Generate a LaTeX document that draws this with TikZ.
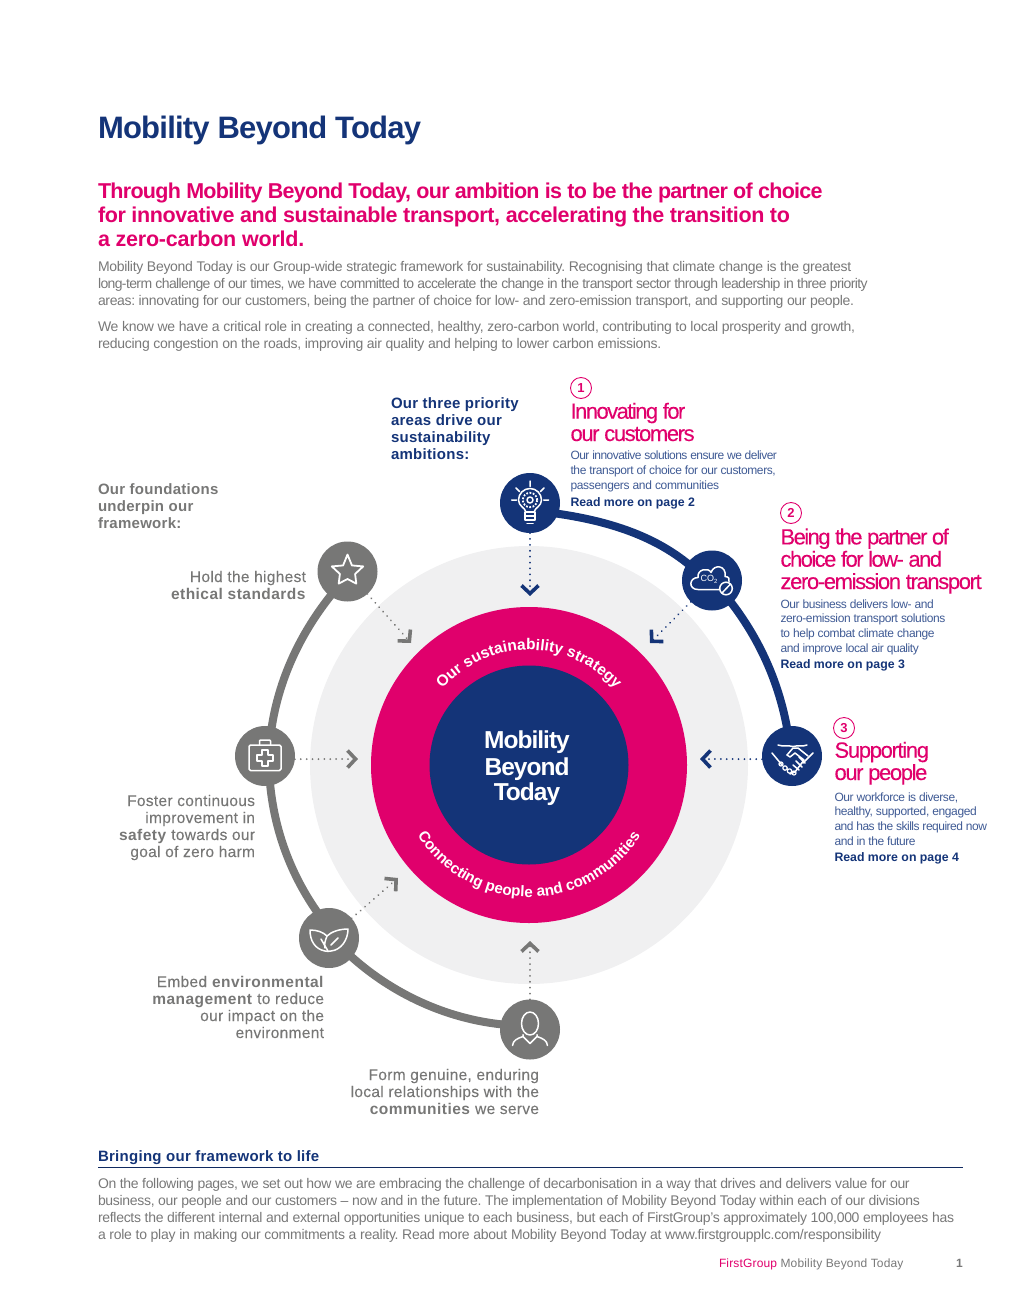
\documentclass[tikz,border=0pt]{standalone}
\usepackage{fontspec}
\usetikzlibrary{arrows.meta,decorations.text,backgrounds}
\setmainfont{Liberation Sans}
\frenchspacing
\newfontfamily\bodyf{Liberation Sans}[LetterSpace=-1.8]
\newfontfamily\headf{Liberation Sans}[LetterSpace=-6,FakeBold=0.12]
\newfontfamily\descf{Liberation Sans}[LetterSpace=-3.6]
\newfontfamily\labf{Liberation Sans}[LetterSpace=0]
\newfontfamily\boldlab{Liberation Sans Bold}[LetterSpace=1.9]
\newfontfamily\greyf{Liberation Sans}[LetterSpace=2,FakeBold=0.1,BoldFeatures={LetterSpace=3,FakeBold=0}]
\newfontfamily\curvef{Liberation Sans Bold}
\newcommand{\fs}[2]{\fontsize{#1}{#2}\selectfont}
\newcommand{\ls}[2]{{\addfontfeature{LetterSpace=#1}#2}}
\definecolor{navy}{HTML}{143478}
\definecolor{pinkc}{HTML}{E0006C}
\definecolor{discg}{HTML}{F0F0F1}
\definecolor{greyc}{HTML}{777776}
\definecolor{bodyc}{HTML}{787878}
\definecolor{descc}{HTML}{3F5A94}
\tikzset{
 txt/.style={inner sep=0pt,outer sep=0pt,anchor=base west,align=left},
 txr/.style={inner sep=0pt,outer sep=0pt,anchor=base east,align=right},
 bodytext/.style={txt,text=bodyc,font=\bodyf\fs{14}{17}},
 heading/.style={txt,text=pinkc,font=\headf\fs{22}{22.3}},
 desc/.style={txt,text=descc,font=\descf\fs{12}{14.6}},
 readmore/.style={txt,text=navy,font=\labf\bfseries\fs{12.3}{15}},
 greylab/.style={txr,text=greyc,font=\greyf\fs{15.5}{17}},
 numcircle/.style={circle,draw=pinkc,line width=0.9pt,minimum size=21pt,inner sep=0pt,text=pinkc,font=\labf\bfseries\fs{13}{13}},
 bluedot/.style={circle,fill=navy,minimum size=60pt,inner sep=0pt,outer sep=0pt},
 greydot/.style={circle,fill=greyc,minimum size=60pt,inner sep=0pt,outer sep=0pt},
 ringblue/.style={draw=navy,line width=8pt,looseness=0.85,shorten <=-4pt,shorten >=-4pt},
 ringgrey/.style={draw=greyc,line width=8pt,looseness=0.85,shorten <=-4pt,shorten >=-4pt},
 dotblue/.style={draw=navy,line width=1.9pt,line cap=round,dash pattern=on 0.1pt off 5.8pt,-{Straight Barb[length=8pt,width=17pt,line width=3.6pt,line cap=butt]}},
 dotgrey/.style={draw=greyc,line width=1.9pt,line cap=round,dash pattern=on 0.1pt off 5.8pt,-{Straight Barb[length=8pt,width=17pt,line width=3.6pt,line cap=butt]}},
 ico/.style={draw=white,line width=1.5pt,line join=round,line cap=round,fill=none},
}
\begin{document}
\begin{tikzpicture}[x=1pt,y=1pt]
\useasboundingbox (0,0) rectangle (1020,-1311);
% header
\node[txt,text=navy,font=\labf\bfseries\fs{31}{34}] (title) at (98,-139) {\ls{-2.5}{Mobility Beyond Today}};
\node[txt,text=pinkc,font=\labf\bfseries\fs{21.5}{24}] (sub) at (98,-246) {\ls{-3.25}{Through Mobility Beyond Today, our ambition is to be the partner of choice}\\\ls{-1.75}{for innovative and sustainable transport, accelerating the transition to}\\\ls{-1.1}{a zero-carbon world.}};
\node[bodytext] (p1) at (98,-305) {\ls{-2.1}{Mobility Beyond Today is our Group-wide strategic framework for sustainability. Recognising that climate change is the greatest}\\\ls{-4.4}{long-term challenge of our times, we have committed to accelerate the change in the transport sector through leadership in three priority}\\\ls{-2.5}{areas: innovating for our customers, being the partner of choice for low- and zero-emission transport, and supporting our people.}};
\node[bodytext] (p2) at (98,-348) {\ls{-1.95}{We know we have a critical role in creating a connected, healthy, zero-carbon world, contributing to local prosperity and growth,}\\\ls{-1.95}{reducing congestion on the roads, improving air quality and helping to lower carbon emissions.}};
% discs
\node[circle,fill=discg,minimum size=438pt,inner sep=0pt] (disc) at (529,-765) {};
\node[circle,fill=pinkc,minimum size=316pt,inner sep=0pt] (ring) at (529,-765) {};
\node[circle,fill=navy,minimum size=199pt,inner sep=0pt] (core) at (529,-765) {};
\node[txt,anchor=base,align=center,text=white,font=\labf\bfseries\fs{24.5}{25}] (corelab) at (527,-800) {\ls{-4}{Mobility}\\[2pt]\ls{-4}{Beyond}\\\ls{-4}{Today}};
\path[decorate,decoration={text along path,text color=white,text align=center,text={|\curvef\fs{15.5}{16}|Our sustainability strategy}}] (529,-765) ++(165:115) arc (165:15:115);
\path[decorate,decoration={text along path,text color=white,text align=center,text={|\curvef\fs{15.2}{16}|Connecting people and communities}}] (529,-765) ++(190:132) arc (190:350:132);
% icon nodes
\node[bluedot] (bulb) at (530,-503) {};
\node[bluedot] (co) at (712,-580.5) {};
\node[bluedot] (hand) at (792,-756) {};
\node[greydot] (star) at (347.5,-571.5) {};
\node[greydot] (aid) at (265,-756) {};
\node[greydot] (leaf) at (329,-938) {};
\node[greydot] (person) at (530,-1029.5) {};
% ring segments
\begin{scope}[on background layer]
\draw[ringblue] (bulb.-21) to[out=-8,in=140] (co.145);
\draw[ringblue] (co.-49) to[out=-52,in=100] (hand.100);
\draw[ringgrey] (star.235) to[out=231,in=82] (aid.77);
\draw[ringgrey] (aid.-80) to[out=275,in=125.5] (leaf.115);
\draw[ringgrey] (leaf.-40) to[out=-42.5,in=174.5] (person.170);
\end{scope}
% dotted connectors
\coordinate (tbulb) at (530,-596);
\coordinate (tco) at (650,-643);
\coordinate (thand) at (700,-759);
\coordinate (tstar) at (411,-643);
\coordinate (taid) at (358,-759);
\coordinate (tleaf) at (398,-878);
\coordinate (tperson) at (530,-941);
\draw[dotblue] (bulb) -- (tbulb);
\draw[dotblue] (co) -- (tco);
\draw[dotblue] (hand.186) -- (thand);
\draw[dotgrey] (star) -- (tstar);
\draw[dotgrey] (aid.-6) -- (taid);
\draw[dotgrey] (leaf) -- (tleaf);
\draw[dotgrey] (person) -- (tperson);
% bulb icon
\begin{scope}[shift={(bulb.center)}]
\draw[ico] (-4.5,-8) .. controls (-5,-5) and (-11.5,-3) .. (-11.5,3) arc (180:0:11.5) .. controls (11.5,-3) and (5,-5) .. (4.5,-8);
\draw[ico] (0,3) circle (3);
\draw[ico,line width=1.8pt,line cap=butt,dash pattern=on 1.8pt off 1.5pt] (0,3) circle (7.2);
\draw[ico] (-5,-9) -- (5,-9) (-5,-13) -- (5,-13) (-5,-17) -- (5,-17) (-5,-9) -- (-5,-17) (5,-9) -- (5,-17) (-3,-20.5) -- (3,-20.5);
\draw[ico] (0,22) -- (0,16.5) (-14,15) -- (-10.5,11.5) (14,15) -- (10.5,11.5) (-18.5,3) -- (-13.5,3) (18.5,3) -- (13.5,3);
\end{scope}
% CO2 icon
\begin{scope}[shift={(co.center)}]
\draw[ico] (7,-9) -- (-14,-9) .. controls (-24,-9) and (-23,3) .. (-14,3) .. controls (-15,12) and (-3,13) .. (-1,8) .. controls (2,17) and (15,15) .. (13,4) .. controls (17,4) and (18,1) .. (17,-1);
\node[text=white,font=\labf\fs{9}{9},inner sep=0pt] (colab) at (-3,1) {CO\raisebox{-1.5pt}{\fs{6}{6}2}};
\draw[ico] (14,-8) circle (6.3);
\draw[ico] (10,-12.5) -- (18.5,-3.5);
\end{scope}
% handshake icon
\begin{scope}[shift={(hand.center)}]
\draw[ico] (-14,11) .. controls (-8,9) and (-4,11) .. (1,9.5) .. controls (6,11) and (10,9) .. (15,11);
\draw[ico] (-20,3) -- (-10,-9) (21,3) -- (11,-7);
\draw[ico] (-5,1) -- (1,8) -- (6,8) -- (16,0);
\draw[ico] (-5,1) -- (-2,-1) -- (3,3) -- (12,-4) -- (3,-16) -- (-2,-18);
\draw[ico] (7,-1) -- (13,-7) (4,-5) -- (10,-11) (1,-9) -- (7,-14);
\draw[ico,line width=1.2pt] (-11,-8) circle (2) (-7,-12) circle (2.2) (-2.5,-15) circle (2.2) (2,-17) circle (2);
\end{scope}
% star icon
\begin{scope}[shift={(star.center)}]
\draw[ico,line width=1.8pt] (90:17) -- (54:7.5) -- (18:16.5) -- (-18:8) -- (-54:15) -- (-90:7.5) -- (-126:15) -- (-162:8) -- (162:16.5) -- (126:7.5) -- cycle;
\end{scope}
% aid icon
\begin{scope}[shift={(aid.center)}]
\draw[ico,rounded corners=1.5pt] (-16,-14.5) rectangle (16,11);
\draw[ico,rounded corners=1pt] (-5.5,11) -- (-5.5,16) -- (5.5,16) -- (5.5,11);
\draw[ico] (-3,-10) -- (3,-10) -- (3,-5) -- (8,-5) -- (8,1) -- (3,1) -- (3,6) -- (-3,6) -- (-3,1) -- (-8,1) -- (-8,-5) -- (-3,-5) -- cycle;
\end{scope}
% leaf icon
\begin{scope}[shift={(leaf.center)}]
\draw[ico] (-4,-13) .. controls (-14,-11) and (-19,-3) .. (-19,8) .. controls (-12,8) and (-6,6) .. (-2,2) .. controls (2,6) and (10,9) .. (19,9) .. controls (19,-2) and (12,-12) .. (2,-13) .. controls (0,-13.5) and (-2,-13.5) .. (-4,-13);
\draw[ico] (-8,-1) -- (-1,-13) (9,0) -- (2,-7);
\draw[ico] (-2,2) .. controls (-4,-3) and (-5,-7) .. (-4,-10);
\end{scope}
% person icon
\begin{scope}[shift={(person.center)}]
\draw[ico] (0,6) ellipse (8.5 and 11.5);
\draw[ico] (-17.5,-16) .. controls (-17,-11) and (-13,-9) .. (-7,-7) -- (-7,-5) (-7,-7) -- (0,-14) -- (7,-7) -- (7,-5) (7,-7) .. controls (13,-9) and (17,-11) .. (17.5,-16);
\end{scope}
% priority blocks
\node[txt,text=navy,font=\boldlab\fs{15}{17}] (three) at (391,-459) {Our three priority\\areas drive our\\sustainability\\ambitions:};
\node[txt,text=greyc,font=\boldlab\fs{15}{17}] (found) at (98,-528) {Our foundations\\underpin our\\framework:};
\node[numcircle] (n1) at (581,-388) {1};
\node[heading] (h1) at (570.5,-441) {\ls{-7}{Innovating for}\\\ls{-6.3}{our customers}};
\node[desc] (d1) at (570.5,-489) {\ls{-4.4}{Our innovative solutions ensure we deliver}\\\ls{-3.2}{the transport of choice for our customers,}\\\ls{-2.7}{passengers and communities}};
\node[readmore] (r1) at (570.5,-506) {Read more on page 2};
\node[numcircle] (n2) at (791,-513) {2};
\node[heading] (h2) at (780.5,-589) {\ls{-7.1}{Being the partner of}\\\ls{-7}{choice for low- and}\\\ls{-6.2}{zero-emission transport}};
\node[desc] (d2) at (780.5,-652) {Our business delivers low- and\\\ls{-3.1}{zero-emission transport solutions}\\\ls{-3}{to help combat climate change}\\and improve local air quality};
\node[readmore] (r2) at (780.5,-668) {Read more on page 3};
\node[numcircle] (n3) at (844,-728) {3};
\node[heading] (h3) at (834.5,-780) {Supporting\\\ls{-6.3}{our people}};
\node[desc] (d3) at (834.5,-845) {Our workforce is diverse,\\\ls{-3.1}{healthy, supported, engaged}\\\ls{-4.1}{and has the skills required now}\\and in the future};
\node[readmore] (r3) at (834.5,-861) {Read more on page 4};
% foundation labels
\node[greylab] (l1) at (306,-599) {Hold the highest\\\textbf{ethical standards}};
\node[greylab] (l2) at (255,-857) {Foster continuous\\improvement in\\\textbf{safety} towards our\\goal of zero harm};
\node[greylab] (l3) at (324,-1038) {Embed \textbf{environmental}\\\textbf{management} to reduce\\our impact on the\\environment};
\node[greylab] (l4) at (539,-1114) {Form genuine, enduring\\local relationships with the\\\textbf{communities} we serve};
% footer
\node[txt,text=navy,font=\boldlab\fs{15}{17}] (bring) at (98,-1161) {Bringing our framework to life};
\coordinate (ruleL) at (98,-1167.5);
\coordinate (ruleR) at (963,-1167.5);
\draw[navy!80!black,line width=0.7pt] (ruleL) -- (ruleR);
\node[bodytext] (p3) at (98,-1239) {\ls{-2.4}{On the following pages, we set out how we are embracing the challenge of decarbonisation in a way that drives and delivers value for our}\\\ls{-2.2}{business, our people and our customers – now and in the future. The implementation of Mobility Beyond Today within each of our divisions}\\\ls{-2.1}{reflects the different internal and external opportunities unique to each business, but each of FirstGroup’s approximately 100,000 employees has}\\a role to play in making our commitments a reality. Read more about Mobility Beyond Today at www.firstgroupplc.com/responsibility};
\node[txt,text=bodyc,font=\labf\fs{12}{14}] (foot) at (719,-1267) {\ls{1.3}{\textcolor{pinkc}{FirstGroup} Mobility Beyond Today}};
\node[txt,text=bodyc,font=\labf\bfseries\fs{12}{14}] (pg) at (956,-1267) {1};
\end{tikzpicture}
\end{document}
